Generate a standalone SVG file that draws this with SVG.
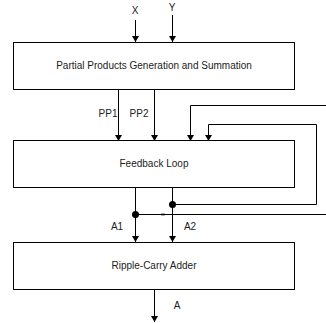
<svg xmlns="http://www.w3.org/2000/svg" width="326" height="323" viewBox="0 0 326 323">
<style>
.box{fill:#fff;stroke:#000;stroke-width:1}
.t{font-family:"Liberation Sans",Arial,sans-serif;font-size:10px;fill:#222;text-anchor:middle;dominant-baseline:central}
.w{fill:none;stroke:#000;stroke-width:1}
</style>
<defs>
<marker id="ah" markerWidth="6" markerHeight="8" refX="6" refY="4" orient="auto" markerUnits="userSpaceOnUse">
<path d="M0,0.5 L6,4 L0,7.5 Z" fill="#000"/>
</marker>
</defs>
<g id="connectors">
<line class="w" x1="135.5" y1="20" x2="135.5" y2="42" marker-end="url(#ah)"/>
<line class="w" x1="172.5" y1="15" x2="172.5" y2="42" marker-end="url(#ah)"/>
<line class="w" x1="118.5" y1="89" x2="118.5" y2="141" marker-end="url(#ah)"/>
<line class="w" x1="154.5" y1="89" x2="154.5" y2="141" marker-end="url(#ah)"/>
<polyline class="w" points="326,105.5 190.5,105.5 190.5,141" marker-end="url(#ah)"/>
<polyline class="w" points="172.5,204.5 316.5,204.5 316.5,124.5 208.5,124.5 208.5,141" marker-end="url(#ah)"/>
<line class="w" x1="135.5" y1="187" x2="135.5" y2="242" marker-end="url(#ah)"/>
<line class="w" x1="172.5" y1="187" x2="172.5" y2="242" marker-end="url(#ah)"/>
<line class="w" x1="135.5" y1="214.5" x2="326" y2="214.5"/>
<line x1="161" y1="214.5" x2="165" y2="214.5" stroke="#000" stroke-width="1.6"/>
<line class="w" x1="154.5" y1="289" x2="154.5" y2="322" marker-end="url(#ah)"/>
<circle cx="172.5" cy="204.5" r="3.5" fill="#000"/>
<circle cx="135.5" cy="214.5" r="3.5" fill="#000"/>
<text class="t" x="135" y="10">X</text>
<text class="t" x="172" y="7">Y</text>
<text class="t" x="108" y="113">PP1</text>
<text class="t" x="139" y="113">PP2</text>
<text class="t" x="117" y="226">A1</text>
<text class="t" x="190" y="226">A2</text>
<text class="t" x="177" y="305">A</text>
</g>
<g id="ppgen">
<rect class="box" x="13.5" y="42.5" width="281" height="47"/>
<text class="t" x="154" y="65">Partial Products Generation and Summation</text>
</g>
<g id="feedback">
<rect class="box" x="13.5" y="140.5" width="281" height="47"/>
<text class="t" x="154" y="163">Feedback Loop</text>
</g>
<g id="rca">
<rect class="box" x="13.5" y="242.5" width="281" height="47"/>
<text class="t" x="154" y="265">Ripple-Carry Adder</text>
</g>
</svg>
